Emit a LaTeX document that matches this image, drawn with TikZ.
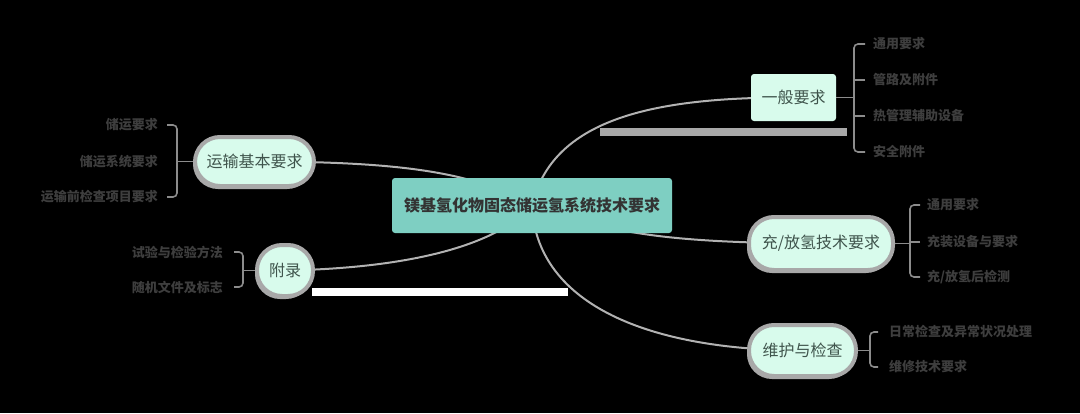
\documentclass[tikz,border=0pt]{standalone}
\usepackage{fontspec}
\setmainfont{Noto Sans CJK SC}
\newfontfamily\cjk{Noto Sans CJK SC}
\usetikzlibrary{shadows}
\definecolor{mint}{HTML}{D8FBEC}
\definecolor{teal}{HTML}{7ECFC2}
\definecolor{pillborder}{HTML}{A8A8A8}
\definecolor{linkgray}{HTML}{B2B2B2}
\definecolor{leafgray}{HTML}{3E3E3E}
\definecolor{brgray}{HTML}{8C8C8C}
\definecolor{pilltext}{HTML}{3F544C}
\tikzset{
  rootbox/.style={fill=teal, rounded corners=3pt, minimum width=280pt, minimum height=55pt, inner sep=0pt,
    font=\cjk\bfseries\fontsize{16}{18}\selectfont, text=black!80},
  flatbox/.style={fill=mint, rounded corners=3pt, inner sep=0pt, font=\cjk\fontsize{16}{18}\selectfont, text=pilltext},
  pill/.style={fill=mint, draw=pillborder, line width=4pt, rounded corners=25pt, inner sep=0pt,
    font=\cjk\fontsize{16}{18}\selectfont, text=pilltext,
    drop shadow={shadow xshift=-2pt, shadow yshift=-3pt, fill=pillborder, opacity=1}},
  leafr/.style={anchor=west, inner sep=0pt, font=\cjk\bfseries\fontsize{13}{15}\selectfont, text=leafgray},
  leafl/.style={anchor=east, inner sep=0pt, font=\cjk\bfseries\fontsize{13}{15}\selectfont, text=leafgray},
  link/.style={draw=linkgray, line width=2pt},
  bracketline/.style={draw=brgray, line width=1.6pt, rounded corners=4pt},
  tickline/.style={draw=brgray, line width=1.6pt},
}
\begin{document}
\begin{tikzpicture}[x=1pt,y=-1pt]
\fill[black] (0,0) rectangle (1080,413);
\useasboundingbox (0,0) rectangle (1080,413);

\coordinate (rc) at (532,205.5);
\coordinate (p1) at (793.5,97.5);
\coordinate (p2) at (821,243.5);
\coordinate (p3) at (802.5,350.5);
\coordinate (p4) at (254.5,161.5);
\coordinate (p5) at (285,270.5);

% connectors behind
\draw[link] (rc) .. controls (552,120) and (650,97) .. (p1);
\draw[link] (rc) .. controls (610,232) and (660,243) .. (p2);
\draw[link] (rc) .. controls (536,300) and (640,350) .. (p3);
\draw[link] (rc) .. controls (475,172) and (400,161.5) .. (p4);
\draw[link] (rc) .. controls (500,242) and (420,268) .. (p5);

% gray and white bars
\fill[pillborder] (600,128) rectangle (847,136);
\fill[white] (312,288) rectangle (568,296);

% nodes
\node[rootbox] (root) at (rc) {镁基氢化物固态储运氢系统技术要求};
\node[flatbox, minimum width=85pt, minimum height=47pt] (g1) at (p1) {一般要求};
\node[pill, minimum width=144pt, minimum height=53pt] (g2) at (p2) {充/放氢技术要求};
\node[pill, minimum width=107pt, minimum height=51pt] (g3) at (p3) {维护与检查};
\node[pill, minimum width=119pt, minimum height=49pt] (g4) at (p4) {运输基本要求};
\node[pill, minimum width=56pt, minimum height=51pt] (g5) at (p5) {附录};

% leaves of g1
\node[leafr] (l11) at (873,44) {通用要求};
\node[leafr] (l12) at (873,80) {管路及附件};
\node[leafr] (l13) at (873,116) {热管理辅助设备};
\node[leafr] (l14) at (873,152) {安全附件};
\coordinate (b1) at (854,97.5);
\draw[tickline] (g1.east) -- (b1);
\draw[bracketline] ([xshift=-8pt]l11.west) -- ++(-11,0) |- ([xshift=-8pt]l14.west);
\draw[tickline] ([xshift=-8pt]l12.west) -- ++(-11,0);
\draw[tickline] ([xshift=-8pt]l13.west) -- ++(-11,0);

% leaves of g2
\node[leafr] (l21) at (927,205) {通用要求};
\node[leafr] (l22) at (927,242) {充装设备与要求};
\node[leafr] (l23) at (927,277) {充/放氢后检测};
\coordinate (b2) at (910,243.5);
\draw[tickline] (g2.east) -- (b2);
\draw[bracketline] ([xshift=-7pt]l21.west) -- ++(-10,0) |- ([xshift=-7pt]l23.west);
\draw[tickline] ([xshift=-7pt]l22.west) -- ++(-10,0);

% leaves of g3
\node[leafr] (l31) at (889,332) {日常检查及异常状况处理};
\node[leafr] (l32) at (889,367) {维修技术要求};
\coordinate (b3) at (870,350.5);
\draw[tickline] (g3.east) -- (b3);
\draw[bracketline] ([xshift=-11pt]l31.west) -- ++(-8,0) |- ([xshift=-11pt]l32.west);

% leaves of g4
\node[leafl] (l41) at (158,125) {储运要求};
\node[leafl] (l42) at (158,162) {储运系统要求};
\node[leafl] (l43) at (158,197) {运输前检查项目要求};
\coordinate (b4) at (177,161.5);
\draw[tickline] (g4.west) -- (b4);
\draw[bracketline] ([xshift=9pt]l41.east) -- ++(10,0) |- ([xshift=9pt]l43.east);

% leaves of g5
\node[leafl] (l51) at (223,252) {试验与检验方法};
\node[leafl] (l52) at (223,287) {随机文件及标志};
\coordinate (b5) at (243,270.5);
\draw[tickline] (g5.west) -- (b5);
\draw[bracketline] ([xshift=11pt]l51.east) -- ++(9,0) |- ([xshift=11pt]l52.east);
\end{tikzpicture}
\end{document}
